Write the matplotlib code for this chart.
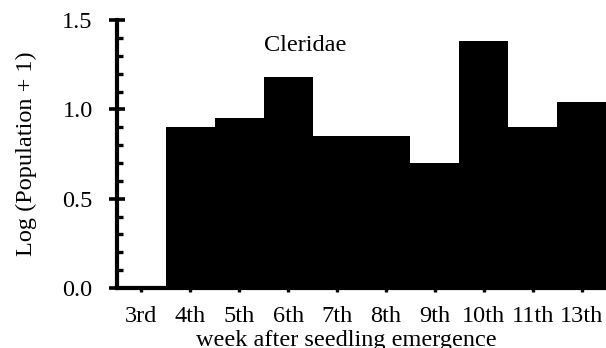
import matplotlib
matplotlib.use("Agg")
import matplotlib.pyplot as plt
from matplotlib.ticker import MultipleLocator, FormatStrFormatter

weeks = ['3rd', '4th', '5th', '6th', '7th', '8th', '9th', '10th', '11th', '13th']
log_pop = [0.0, 0.90, 0.95, 1.18, 0.85, 0.85, 0.70, 1.38, 0.90, 1.04]

plt.rcParams['font.family'] = ['Liberation Serif', 'DejaVu Serif']
plt.rcParams['font.size'] = 17.5

fig = plt.figure(figsize=(6.06, 3.48), dpi=100)
ax = fig.add_axes([0.193, 0.1724, 0.807, 0.770])

x = range(len(weeks))
ax.bar(x, log_pop, width=1.0, color='black', linewidth=0, antialiased=False)

ax.set_xlim(-0.5, len(weeks) - 0.5)
ax.set_ylim(0, 1.5)
ax.set_xticks(list(x))
ax.set_xticklabels(weeks)
ax.yaxis.set_major_locator(MultipleLocator(0.5))
ax.yaxis.set_minor_locator(MultipleLocator(0.1))
ax.yaxis.set_major_formatter(FormatStrFormatter('%.1f'))

for s in ['top', 'right']:
    ax.spines[s].set_visible(False)
for s in ['left', 'bottom']:
    ax.spines[s].set_linewidth(3)

ax.tick_params(axis='y', which='major', direction='inout', length=11, width=2.6, pad=12)
ax.tick_params(axis='y', which='minor', direction='in', length=4, width=2.4)
ax.tick_params(axis='x', which='major', direction='out', length=3, width=2.4, pad=10)

ax.set_ylabel('Log (Population + 1)', labelpad=18)
ax.set_xlabel('week after seedling emergence', labelpad=3)
ax.xaxis.set_label_coords(0.469, -0.155, transform=ax.transAxes)
ax.xaxis.label.set_va('top')
ax.text(2.5, 1.36, 'Cleridae', ha='left', va='center')

fig.savefig('out.png', dpi=100)
